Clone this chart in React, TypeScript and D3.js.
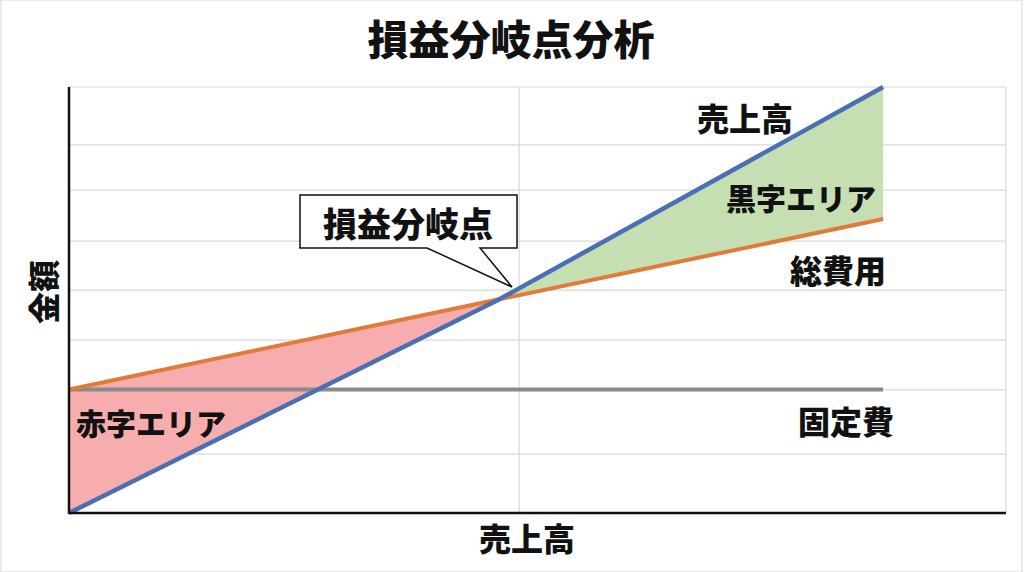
import React from "react";
import * as d3 from "d3";

// ---- data ----
const xPoints = [0, 52.7, 100]; // sales volume: start, break-even, end
const salesValues = [0, 50, 100];
const costValues = [29, 50.1, 69];
const fixedCostValue = 29;
const yGridValues = [13.8, 28.9, 40.6, 52.3, 63.8, 75.8, 86.4, 100];
const xGridValues = [55.3];
const breakEvenIndex = 1;

const FONT = "'Noto Sans CJK JP', 'Noto Sans', sans-serif";

export default function App() {
  const W = 1024;
  const H = 572;
  const x = d3.scaleLinear().domain([0, 115.1]).range([69, 1006]);
  const y = d3.scaleLinear().domain([0, 100]).range([513, 87]);

  const pts = xPoints.map((xv, i) => ({ x: xv, s: salesValues[i], c: costValues[i] }));
  const lossPts = pts.slice(0, breakEvenIndex + 1);
  const profitPts = pts.slice(breakEvenIndex);

  const area = d3
    .area<{ x: number; s: number; c: number }>()
    .x((d) => x(d.x))
    .y0((d) => y(d.s))
    .y1((d) => y(d.c));
  const salesLine = d3
    .line<{ x: number; s: number; c: number }>()
    .x((d) => x(d.x))
    .y((d) => y(d.s));
  const costLine = d3
    .line<{ x: number; s: number; c: number }>()
    .x((d) => x(d.x))
    .y((d) => y(d.c));

  const x0 = x(0);
  const x1 = x.range()[1];
  const yTop = y(100);
  const yBot = y(0);

  const label = (t: string, cx: number, cy: number, size = 32) => (
    <text
      x={cx}
      y={cy}
      textAnchor="middle"
      dominantBaseline="central"
      fontFamily={FONT}
      fontWeight={900}
      fontSize={size}
      fill="#111"
    >
      {t}
    </text>
  );

  const be = pts[breakEvenIndex];
  const tipX = x(be.x) + 14;
  const tipY = y(be.s) - 13;
  const callout = [
    [300, 195],
    [517, 195],
    [517, 248],
    [480, 248],
    [tipX, tipY],
    [427, 248],
    [300, 248],
  ];

  return (
    <svg
      width={W}
      height={H}
      style={{ position: "absolute", left: 0, top: 0, background: "#fff" }}
    >
      <rect x={1} y={0} width={1021} height={H} fill="#fff" stroke="#e3e3e3" strokeWidth={1.5} />
      {/* grid */}
      {yGridValues.map((v) => (
        <line key={v} x1={x0} x2={x1} y1={y(v)} y2={y(v)} stroke="#d9d9d9" strokeWidth={1.2} />
      ))}
      {xGridValues.map((v) => (
        <line key={v} x1={x(v)} x2={x(v)} y1={yTop} y2={yBot} stroke="#d9d9d9" strokeWidth={1.2} />
      ))}
      <line x1={x1} x2={x1} y1={yTop} y2={yBot} stroke="#d9d9d9" strokeWidth={1.2} />

      {/* areas */}
      <path d={area(lossPts) || ""} fill="#f7adad" />
      <path d={area(profitPts) || ""} fill="#c5dfb2" />

      {/* fixed cost */}
      <line
        x1={x(0)}
        x2={x(100)}
        y1={y(fixedCostValue)}
        y2={y(fixedCostValue)}
        stroke="#8a8a8a"
        strokeWidth={4}
      />
      <path d={costLine(pts) || ""} fill="none" stroke="#e07b39" strokeWidth={4} />
      <path d={salesLine(pts) || ""} fill="none" stroke="#4a6fb3" strokeWidth={4.5} />

      {/* axes */}
      <line x1={x0} x2={x0} y1={yTop} y2={yBot + 1} stroke="#111" strokeWidth={2.5} />
      <line x1={x0} x2={x1} y1={yBot} y2={yBot} stroke="#111" strokeWidth={2.5} />

      {/* callout */}
      <polygon
        points={callout.map((p) => p.join(",")).join(" ")}
        fill="#fff"
        stroke="#111"
        strokeWidth={1.5}
        strokeLinejoin="miter"
      />
      {label("損益分岐点", 408, 222, 34)}

      {/* labels */}
      {label("損益分岐点分析", 511, 37, 41)}
      {label("売上高", 745, 117)}
      {label("黒字エリア", 801, 197, 30)}
      {label("総費用", 838, 269)}
      {label("固定費", 846, 420)}
      {label("赤字エリア", 151, 422, 30)}
      {label("売上高", 527, 537)}
      <text
        transform="translate(42,292) rotate(-90)"
        textAnchor="middle"
        dominantBaseline="central"
        fontFamily={FONT}
        fontWeight={900}
        fontSize={32}
        fill="#111"
      >
        金額
      </text>
    </svg>
  );
}
